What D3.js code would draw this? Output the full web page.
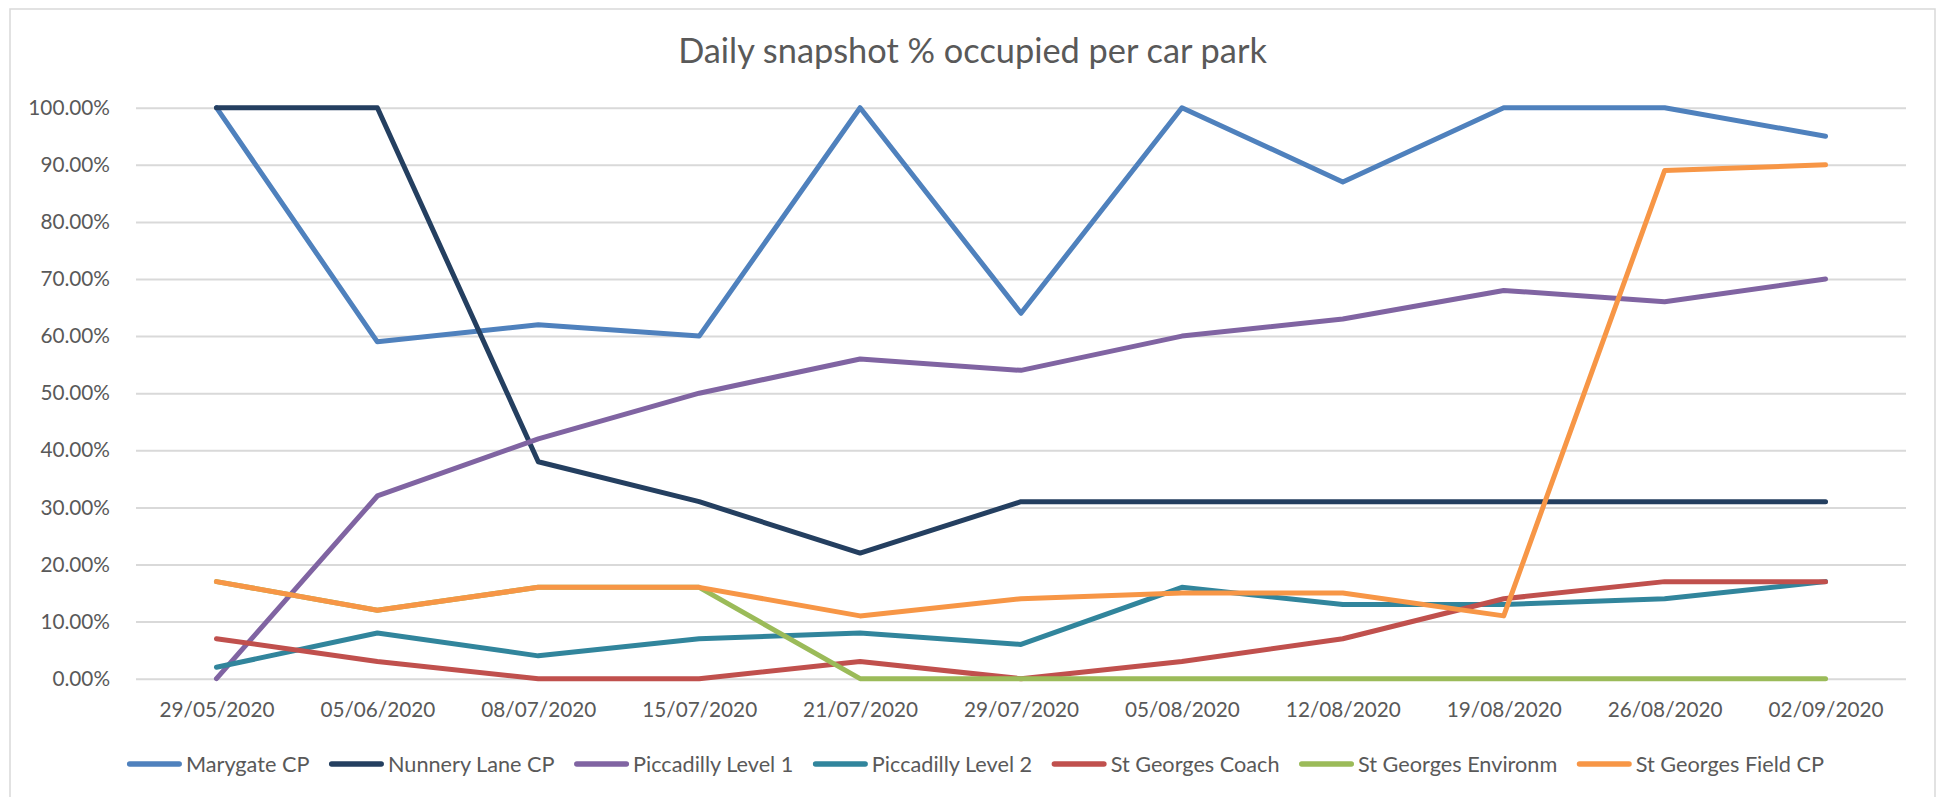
<!DOCTYPE html>
<html>
<head>
<meta charset="utf-8">
<script src="https://cdn.jsdelivr.net/npm/d3@7"></script>
<style>
  html, body { margin: 0; padding: 0; background: #ffffff; }
  svg { display: block; }
</style>
</head>
<body>
<svg id="chart" width="1942" height="797"></svg>
<script>
// ---- Data ----
const title = "Daily snapshot % occupied per car park";
const categories = ["29/05/2020","05/06/2020","08/07/2020","15/07/2020","21/07/2020","29/07/2020","05/08/2020","12/08/2020","19/08/2020","26/08/2020","02/09/2020"];
const seriesNames = ["Marygate CP","Nunnery Lane CP","Piccadilly Level 1","Piccadilly Level 2","St Georges Coach","St Georges Environm","St Georges Field CP"];
const marygate      = [1.00, 0.59, 0.62, 0.60, 1.00, 0.64, 1.00, 0.87, 1.00, 1.00, 0.95];
const nunneryLane   = [1.00, 1.00, 0.38, 0.31, 0.22, 0.31, 0.31, 0.31, 0.31, 0.31, 0.31];
const piccadilly1   = [0.00, 0.32, 0.42, 0.50, 0.56, 0.54, 0.60, 0.63, 0.68, 0.66, 0.70];
const piccadilly2   = [0.02, 0.08, 0.04, 0.07, 0.08, 0.06, 0.16, 0.13, 0.13, 0.14, 0.17];
const stGeorgesCoach= [0.07, 0.03, 0.00, 0.00, 0.03, 0.00, 0.03, 0.07, 0.14, 0.17, 0.17];
const stGeorgesEnv  = [0.17, 0.12, 0.16, 0.16, 0.00, 0.00, 0.00, 0.00, 0.00, 0.00, 0.00];
const stGeorgesField= [0.17, 0.12, 0.16, 0.16, 0.11, 0.14, 0.15, 0.15, 0.11, 0.89, 0.90];
const yTicks = [0, 0.1, 0.2, 0.3, 0.4, 0.5, 0.6, 0.7, 0.8, 0.9, 1.0];
const colors = ["#4F81BD","#243F60","#8064A2","#31859C","#C0504D","#9BBB59","#F79646"];

const seriesValues = [marygate, nunneryLane, piccadilly1, piccadilly2, stGeorgesCoach, stGeorgesEnv, stGeorgesField];
const series = seriesNames.map((n, i) => ({ name: n, values: seriesValues[i], color: colors[i] }));

// ---- Layout ----
const FONT = "Lato, 'Open Sans', sans-serif";
const TEXT = "#595959";
const GRID = "#D9D9D9";
const svg = d3.select("#chart");

function measure(str, fs) {
  const t = svg.append("text").attr("font-family", FONT).attr("font-size", fs).text(str);
  const w = t.node().getComputedTextLength();
  t.remove();
  return w;
}
// font size giving a target width for a sample string (or list of strings summed)
function fitSize(samples, targetWidth) {
  const list = Array.isArray(samples) ? samples : [samples];
  const w = d3.sum(list, s => measure(s, 100));
  return 100 * targetWidth / w;
}

const chartBox = { x: 10, y: 9, w: 1925, h: 800 };
const plot = { left: 136, right: 1906, top: 107.7, bottom: 678.7 };

svg.append("rect")
  .attr("x", chartBox.x).attr("y", chartBox.y)
  .attr("width", chartBox.w).attr("height", chartBox.h)
  .attr("fill", "#ffffff").attr("stroke", GRID).attr("stroke-width", 1.5);

const x = d3.scalePoint().domain(categories).range([plot.left, plot.right]).padding(0.5);
const y = d3.scaleLinear().domain([0, 1]).range([plot.bottom, plot.top]);

const axisFs = fitSize("29/05/2020", 115);
const titleFs = fitSize(title, 589);
const legendFs = fitSize(seriesNames, 1168);

// Title
svg.append("text")
  .attr("x", chartBox.x + chartBox.w / 2).attr("y", 63)
  .attr("text-anchor", "middle")
  .attr("font-family", FONT).attr("font-size", titleFs)
  .attr("fill", TEXT).text(title);

// Gridlines + y axis
const yAxis = d3.axisLeft(y).tickValues(yTicks).tickFormat(d3.format(".2%"))
  .tickSize(-(plot.right - plot.left)).tickPadding(26);
const gy = svg.append("g").attr("transform", `translate(${plot.left},0)`).call(yAxis);
gy.select(".domain").remove();
gy.selectAll(".tick line").attr("stroke", GRID).attr("stroke-width", 2);
gy.selectAll(".tick text")
  .attr("font-family", FONT).attr("font-size", axisFs).attr("fill", TEXT);

// x axis labels
const xAxis = d3.axisBottom(x).tickSize(0).tickPadding(24);
const gx = svg.append("g").attr("transform", `translate(0,${plot.bottom})`).call(xAxis);
gx.select(".domain").remove();
gx.selectAll(".tick text")
  .attr("font-family", FONT).attr("font-size", axisFs).attr("fill", TEXT);

// Lines
const line = d3.line().x((d, i) => x(categories[i])).y(d => y(d));
svg.append("g").selectAll("path").data(series).join("path")
  .attr("d", d => line(d.values))
  .attr("fill", "none")
  .attr("stroke", d => d.color)
  .attr("stroke-width", 5)
  .attr("stroke-linejoin", "round")
  .attr("stroke-linecap", "round");

// Legend
const legendY = 764;
const lw = 5.5, cap = lw / 2;
const sampleLen = 49.5, textGap = 4, itemGap = 19.5;
const textWidths = seriesNames.map(s => measure(s, legendFs));
const itemWidths = textWidths.map(w => cap + sampleLen + cap + textGap + w);
const total = d3.sum(itemWidths) + itemGap * (itemWidths.length - 1);
let cursor = chartBox.x + chartBox.w / 2 + 3 - total / 2;
const starts = itemWidths.map(w => { const s = cursor; cursor += w + itemGap; return s; });
const items = svg.append("g").selectAll("g").data(series).join("g")
  .attr("transform", (d, i) => `translate(${starts[i] + cap},${legendY})`);
items.append("line")
  .attr("x1", 0).attr("x2", sampleLen).attr("y1", 0).attr("y2", 0)
  .attr("stroke", d => d.color).attr("stroke-width", lw).attr("stroke-linecap", "round");
items.append("text")
  .attr("x", sampleLen + cap + textGap).attr("y", 0).attr("dy", "0.35em")
  .attr("font-family", FONT).attr("font-size", legendFs).attr("fill", TEXT)
  .text(d => d.name);
</script>
</body>
</html>
